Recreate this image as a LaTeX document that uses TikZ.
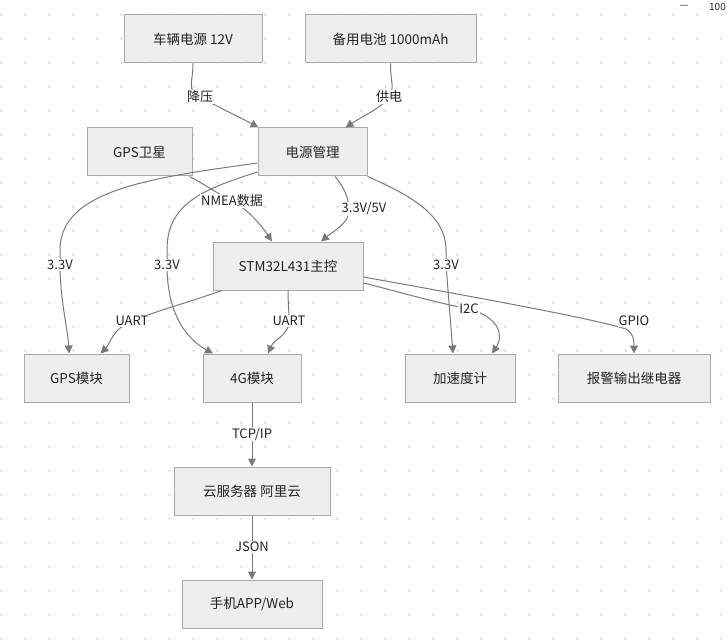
\documentclass[tikz,border=0pt]{standalone}
\usepackage{fontspec}
\setmainfont{Noto Sans CJK SC}
\usetikzlibrary{arrows.meta,calc}
\definecolor{boxfill}{HTML}{EEEEEE}
\definecolor{boxline}{HTML}{AAAAAA}
\definecolor{edgec}{HTML}{7A7A7A}
\definecolor{dotc}{HTML}{D2D2D2}
\definecolor{txt}{HTML}{222222}
\tikzset{
  box/.style={draw=boxline, fill=boxfill, line width=1pt, minimum height=48pt, inner sep=0pt, text=txt, font=\fontsize{13.5}{15}\selectfont},
  conn/.style={draw=edgec, line width=1pt, -{Triangle[length=8pt,width=8pt]}},
  lbl/.style={fill=white, inner sep=1pt, text=txt, font=\fontsize{13}{14}\selectfont},
  uitxt/.style={text=txt, font=\fontsize{10}{11}\selectfont, inner sep=0pt},
}
\begin{document}
\begin{tikzpicture}[x=1pt,y=-1pt]
\useasboundingbox (0,0) rectangle (727,644);
\clip (0,0) rectangle (727,644);
% dot grid
\foreach \i in {0,...,30}{
  \foreach \j in {0,...,26}{
    \fill[dotc] (1.5+24*\i,14.7+24*\j) circle (1.2pt);
  }
}
% UI zoom indicator
\node[uitxt] (zm) at (684,7) {—};
\node[uitxt, anchor=east] (zp) at (726,7) {100};

% nodes
\node[box, minimum width=138pt] (car) at (193,39) {车辆电源 12V};
\node[box, minimum width=171pt] (bat) at (390.5,39) {备用电池 1000mAh};
\node[box, minimum width=105pt] (sat) at (139.5,152) {GPS卫星};
\node[box, minimum width=109pt] (pm) at (312.5,152) {电源管理};
\node[box, minimum width=150pt] (stm) at (288,266) {STM32L431主控};
\node[box, minimum width=105pt] (gps) at (76.5,378) {GPS模块};
\node[box, minimum width=98pt] (g4) at (252,378) {4G模块};
\node[box, minimum width=110pt] (acc) at (460,378) {加速度计};
\node[box, minimum width=152pt] (alarm) at (634,378) {报警输出继电器};
\node[box, minimum width=156pt] (cloud) at (252,491) {云服务器 阿里云};
\node[box, minimum width=140pt] (app) at (252,604) {手机APP/Web};

% label coordinates
\coordinate (l1) at (200,97);
\coordinate (l2) at (389,97);
\coordinate (l3) at (232,201);
\coordinate (l4) at (60,265);
\coordinate (l5) at (167,265);
\coordinate (l6) at (349,211);
\coordinate (l7) at (446,265);
\coordinate (l8) at (132,321);
\coordinate (l9) at (289,321);
\coordinate (l10) at (469,309);
\coordinate (l11) at (626,329);
\coordinate (l12) at (252,434);
\coordinate (l13) at (252,547);

% edges
\draw[conn] (car.south) .. controls +(0,20) and +(-14,-8) .. (l1) .. controls +(14,8) and +(-20,-11) .. ([xshift=1pt]pm.north west);
\draw[conn] (bat.south) .. controls +(0,20) and +(6,-10) .. (l2) .. controls +(-6,10) and +(15,-10) .. ($(pm.north)+(33,0)$);
\draw[conn] ($(sat.south east)+(-3,0)$) .. controls +(15,8) and +(-20,-11) .. (l3) .. controls +(20,11) and +(-8,-12) .. ($(stm.north)+(-16,0)$);
\draw[conn] ($(pm.west)+(0,11)$) .. controls (150,178) and (60,190) .. (60,250) -- (l4) .. controls (60,300) and (68,330) .. ($(gps.north)+(-7.5,0)$);
\draw[conn] ($(pm.west)+(0,20)$) .. controls (200,190) and (167,205) .. (167,250) -- (l5) .. controls (167,312) and (185,338) .. ($(g4.north)+(-39,0)$);
\draw[conn] ($(pm.south)+(22.5,0)$) .. controls +(10,12) and +(0,-12) .. (l6) .. controls +(0,12) and +(12,-10) .. ($(stm.north)+(33,0)$);
\draw[conn] (pm.south east) .. controls (410,195) and (446,215) .. (446,250) -- (l7) -- ($(acc.north)+(-7,0)$);
\draw[conn] ($(stm.south)+(-66,0)$) .. controls +(-40,14) and +(30,-12) .. (l8) .. controls +(-20,8) and +(10,-10) .. ($(gps.north)+(24,0)$);
\draw[conn] (stm.south) .. controls +(0,12) and +(0,-12) .. (l9) .. controls +(0,14) and +(6,-14) .. ($(g4.north)+(16,0)$);
\draw[conn] ($(stm.east)+(0,17)$) .. controls +(40,10) and +(-40,-8) .. (l10) .. controls +(30,8) and +(12,-18) .. ($(acc.north)+(32,0)$);
\draw[conn] ($(stm.east)+(0,11)$) .. controls (480,298) and (590,318) .. (l11) .. controls +(8,5) and +(0,-12) .. (alarm.north);
\draw[conn] (g4.south) -- (cloud.north);
\draw[conn] (cloud.south) -- (app.north);

% labels
\node[lbl] (t1) at (l1) {降压};
\node[lbl] (t2) at (l2) {供电};
\node[lbl] (t3) at (l3) {NMEA数据};
\node[lbl] (t4) at (l4) {3.3V};
\node[lbl] (t5) at (l5) {3.3V};
\node[lbl] (t6) at (364,209) {3.3V/5V};
\node[lbl] (t7) at (l7) {3.3V};
\node[lbl] (t8) at (l8) {UART};
\node[lbl] (t9) at (l9) {UART};
\node[lbl] (t10) at (l10) {I2C};
\node[lbl] (t11) at (634,321) {GPIO};
\node[lbl] (t12) at (l12) {TCP/IP};
\node[lbl] (t13) at (l13) {JSON};
\end{tikzpicture}
\end{document}
